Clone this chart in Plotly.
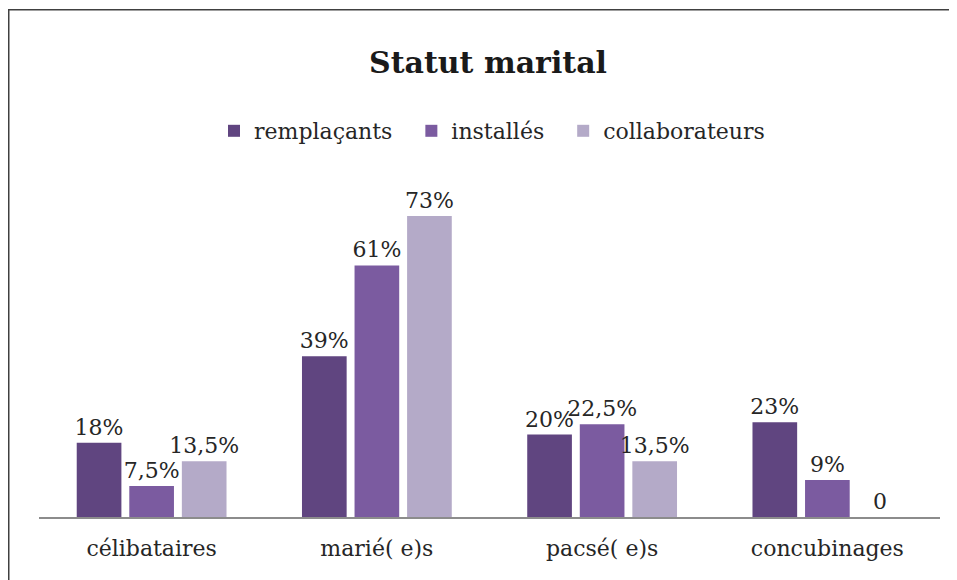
import plotly.graph_objects as go

categories = ["célibataires", "marié( e)s", "pacsé( e)s", "concubinages"]
series_names = ["remplaçants", "installés", "collaborateurs"]
remplacants = [18, 39, 20, 23]
installes = [7.5, 61, 22.5, 9]
collaborateurs = [13.5, 73, 13.5, 0]
colors = ["#604580", "#7B5BA0", "#B4AAC8"]

def fmt(v):
    if v == 0:
        return "0"
    return f"{v:g}%".replace(".", ",")

FONT = "DejaVu Serif"
PAD = "\u00a0\u00a0"
fig = go.Figure()
for i, (name, vals, col) in enumerate(zip(series_names, [remplacants, installes, collaborateurs], colors)):
    fig.add_trace(go.Bar(
        x=categories, y=vals, name=name + (PAD if i < 2 else ""), marker_color=col,
        marker_line_width=0,
        text=[fmt(v) for v in vals], textposition="outside",
        constraintext="none", cliponaxis=False,
        textfont=dict(family=FONT, size=22, color="#262626"),
    ))

# page body has an 8px margin: figure px = screen px - 8
OFF = 8
W, H = 957 - OFF, 580 - OFF
L = 39 - OFF
R = W - (940 - OFF)
B = H - (517 - OFF)
ph = 330
T = H - B - ph
pw = W - L - R

fig.update_layout(
    width=W, height=H,
    margin=dict(l=L, r=R, t=T, b=B, pad=0),
    paper_bgcolor="white", plot_bgcolor="white",
    barmode="group", bargap=0.30, bargroupgap=0.15,
    font=dict(family=FONT, size=22, color="#262626"),
    title=dict(text="<b>Statut marital</b>", x=(488 - OFF) / W, xanchor="center",
               y=1 - (62 - OFF) / H, yanchor="middle",
               font=dict(family=FONT, size=30, color="#1a1a1a")),
    legend=dict(orientation="h", x=(492 - OFF - L) / pw, xanchor="center",
                y=1 + (T - (131 - OFF)) / ph, yanchor="middle",
                font=dict(family=FONT, size=22, color="#262626"),
                itemwidth=30, tracegroupgap=0, traceorder="normal"),
    xaxis=dict(showline=True, linecolor="#8c8c8c", linewidth=1.5,
               ticks="", showgrid=False, tickfont=dict(size=22),
               ticklabelstandoff=11),
    yaxis=dict(range=[0, 80], visible=False, showgrid=False),
    showlegend=True,
)

# outer chart border (left and top visible)
fig.add_shape(type="rect", xref="paper", yref="paper",
              x0=(0.75 - L) / pw, x1=(W + 5 - L) / pw,
              y0=-(B + 5) / ph, y1=((H - B) - 1.75) / ph,
              line=dict(color="#404040", width=1.5), fillcolor="rgba(0,0,0,0)",
              layer="below")

fig.write_html("out.html")
